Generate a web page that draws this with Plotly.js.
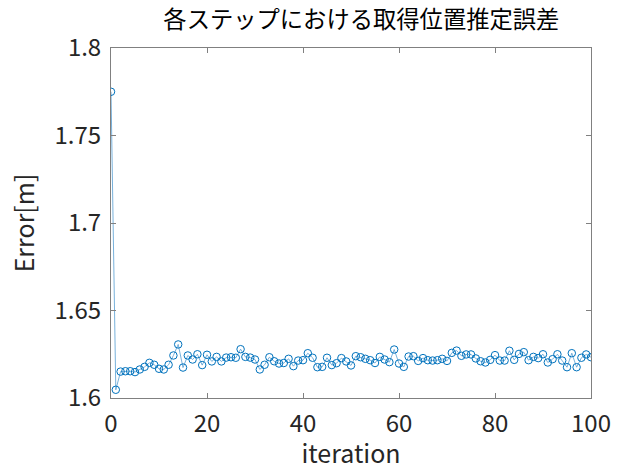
<!DOCTYPE html>
<html>
<head>
<meta charset="utf-8">
<script src="https://cdn.plot.ly/plotly-3.0.1.min.js"></script>
<style>html,body{margin:0;padding:0;background:#fff;}#chart{width:622px;height:470px;}</style>
</head>
<body>
<div id="chart"></div>
<script>
const iterations = Array.from({length: 101}, (_, i) => i);
const errors = [
  1.7750, 1.6047, 1.6151, 1.6153, 1.6153, 1.6148, 1.6163, 1.6178, 1.6201, 1.6190,
  1.6167, 1.6163, 1.6190, 1.6243, 1.6306, 1.6174, 1.6243, 1.6220, 1.6250, 1.6188,
  1.6247, 1.6209, 1.6235, 1.6209, 1.6231, 1.6233, 1.6230, 1.6279, 1.6235, 1.6231,
  1.6220, 1.6163, 1.6190, 1.6233, 1.6210, 1.6197, 1.6200, 1.6224, 1.6182, 1.6214,
  1.6216, 1.6256, 1.6230, 1.6176, 1.6178, 1.6230, 1.6188, 1.6199, 1.6228, 1.6209,
  1.6186, 1.6239, 1.6233, 1.6224, 1.6216, 1.6200, 1.6235, 1.6220, 1.6205, 1.6277,
  1.6197, 1.6178, 1.6237, 1.6239, 1.6212, 1.6228, 1.6216, 1.6214, 1.6216, 1.6224,
  1.6212, 1.6258, 1.6271, 1.6241, 1.6249, 1.6249, 1.6226, 1.6210, 1.6203, 1.6218,
  1.6245, 1.6214, 1.6214, 1.6270, 1.6218, 1.6252, 1.6262, 1.6216, 1.6235, 1.6228,
  1.6250, 1.6203, 1.6222, 1.6250, 1.6214, 1.6176, 1.6256, 1.6176, 1.6230, 1.6249,
  1.6233
];
const xTicks = [0, 20, 40, 60, 80, 100];
const yTicks = [1.6, 1.65, 1.7, 1.75, 1.8];
const yTickLabels = ['1.6', '1.65', '1.7', '1.75', '1.8'];
const titleText = '各ステップにおける取得位置推定誤差';

const fontFam = '"Noto Sans CJK JP", "Noto Sans", sans-serif';
const axisCommon = {
  showgrid: false, zeroline: false, showline: true, mirror: 'ticks',
  linecolor: '#808080', linewidth: 1, ticks: 'inside', ticklen: 5,
  tickcolor: '#808080', tickfont: {family: fontFam, size: 24, color: '#262626'}
};
Plotly.newPlot('chart', [{
  x: iterations, y: errors, type: 'scatter', mode: 'lines+markers',
  line: {color: '#3d8fcc', width: 0.7},
  marker: {symbol: 'circle-open', size: 7.5, color: '#0072BD', line: {width: 1}}
}], {
  width: 622, height: 470,
  margin: {l: 111, r: 31, t: 48, b: 72},
  paper_bgcolor: '#fff', plot_bgcolor: '#fff',
  showlegend: false,
  title: {text: titleText, font: {family: fontFam, size: 23.3, color: '#000'}, x: 0.581, xanchor: 'center', y: 0.957, yanchor: 'middle'},
  xaxis: Object.assign({}, axisCommon, {
    range: [0, 100], tickvals: xTicks, ticklabelstandoff: 4,
    title: {text: 'iteration', font: {family: fontFam, size: 25, color: '#262626'}, standoff: 11}
  }),
  yaxis: Object.assign({}, axisCommon, {
    range: [1.6, 1.8], tickvals: yTicks, ticktext: yTickLabels, ticklabelstandoff: 4,
    title: {text: 'Error[m]', font: {family: fontFam, size: 25, color: '#262626'}, standoff: 12}
  })
}, {displayModeBar: false, staticPlot: true});
</script>
</body>
</html>
